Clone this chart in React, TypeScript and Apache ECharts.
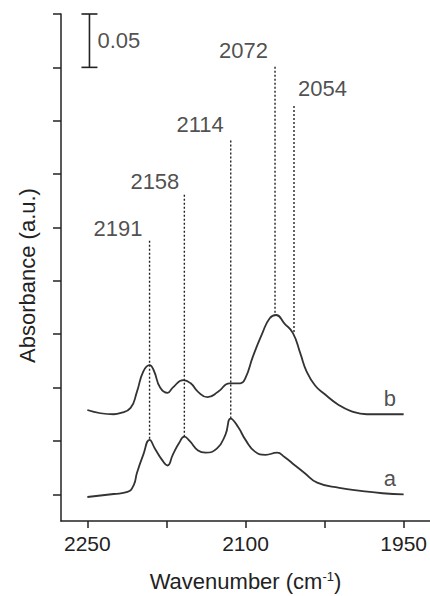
import React, { useEffect, useRef } from "react";
import * as echarts from "echarts";

// ---- data ----
const wavenumbersB = [2250, 2225, 2219, 2209, 2203, 2197, 2191, 2187, 2181, 2174, 2169, 2159, 2152, 2145, 2136, 2126, 2115, 2105, 2100, 2093, 2084, 2077, 2071, 2063, 2055, 2048, 2042, 2034, 2025, 2012, 2000, 1985, 1970, 1950];
const absorbanceB = [0.104, 0.1, 0.101, 0.106, 0.121, 0.14, 0.146, 0.141, 0.125, 0.12, 0.125, 0.132, 0.129, 0.121, 0.116, 0.121, 0.129, 0.129, 0.134, 0.154, 0.176, 0.19, 0.193, 0.185, 0.176, 0.157, 0.14, 0.127, 0.119, 0.109, 0.103, 0.1, 0.1, 0.1];

const wavenumbersA = [2250, 2225, 2212, 2206, 2203, 2197, 2191, 2186, 2179, 2174, 2169, 2163, 2158, 2153, 2145, 2138, 2127, 2119, 2114, 2107, 2100, 2091, 2081, 2070, 2063, 2053, 2044, 2032, 2011, 1989, 1970, 1950];
const absorbanceA = [0.0225, 0.0253, 0.0272, 0.0337, 0.045, 0.062, 0.076, 0.068, 0.057, 0.052, 0.062, 0.073, 0.079, 0.075, 0.066, 0.064, 0.068, 0.081, 0.096, 0.088, 0.076, 0.065, 0.062, 0.064, 0.06, 0.052, 0.045, 0.036, 0.031, 0.028, 0.026, 0.025];

const peakWavenumbers = [2191, 2158, 2114, 2072, 2054];
const peakLineBottoms = [0.077, 0.079, 0.096, 0.195, 0.177];
const peakLineTops = [0.263, 0.307, 0.357, 0.426, 0.39];

const curveNames = ["a", "b"];
const curveLabelWavenumber = 1963;
const curveLabelValues = [0.04, 0.115];

const xTickValues = [1950, 2025, 2100, 2175, 2250];
const xLabelValues = [1950, 2100, 2250];
const yTickValues = [0.025, 0.075, 0.125, 0.175, 0.225, 0.275, 0.325, 0.375, 0.425, 0.475];

const scaleBarWavenumber = 2248;
const scaleBarRange = [0.425, 0.475];
const scaleBarText = "0.05";

// ---- layout / style (not data) ----
const FONT = "'Liberation Sans', Arial, sans-serif";
const INK = "#222";
const CURVE = "#333";
const labelOffsets = [[-7, 4], [-5, 4], [-7, 1], [-7, 0], [4, 0]];
const labelAligns = ["right", "right", "right", "right", "left"];

function buildOption() {
  const series: any[] = [];
  series.push({
    type: "line",
    name: "a",
    data: wavenumbersA.map((w, i) => [w, absorbanceA[i]]),
    smooth: 0.5,
    symbol: "none",
    clip: false,
    lineStyle: { color: CURVE, width: 1.8 },
  });
  series.push({
    type: "line",
    name: "b",
    data: wavenumbersB.map((w, i) => [w, absorbanceB[i]]),
    smooth: 0.5,
    symbol: "none",
    clip: false,
    lineStyle: { color: CURVE, width: 1.8 },
  });
  peakWavenumbers.forEach((w, i) => {
    series.push({
      type: "line",
      data: [
        [w, peakLineBottoms[i]],
        [w, peakLineTops[i]],
      ],
      symbol: "none",
      clip: false,
      lineStyle: { color: INK, width: 1.4, type: [2, 2] },
    });
  });
  series.push({
    type: "scatter",
    symbolSize: 0,
    clip: false,
    data: peakWavenumbers.map((w, i) => ({
      value: [w, peakLineTops[i]],
      label: {
        show: true,
        position: "top",
        align: labelAligns[i],
        offset: labelOffsets[i],
        distance: 5,
        formatter: String(w),
        fontSize: 22,
        color: INK,
        fontFamily: FONT,
      },
    })),
  });
  series.push({
    type: "scatter",
    symbolSize: 0,
    clip: false,
    data: curveNames.map((n, i) => ({
      value: [curveLabelWavenumber, curveLabelValues[i]],
      label: {
        show: true,
        position: "inside",
        formatter: n,
        fontSize: 22,
        color: INK,
        fontFamily: FONT,
      },
    })),
  });
  // scale bar
  series.push({
    type: "line",
    clip: false,
    symbol: "rect",
    symbolSize: [16, 1.6],
    showSymbol: true,
    itemStyle: { color: INK },
    lineStyle: { color: INK, width: 1.6 },
    data: [
      [scaleBarWavenumber, scaleBarRange[0]],
      [scaleBarWavenumber, scaleBarRange[1]],
    ],
  });
  series.push({
    type: "scatter",
    symbolSize: 0,
    clip: false,
    data: [
      {
        value: [scaleBarWavenumber, (scaleBarRange[0] + scaleBarRange[1]) / 2],
        label: {
          show: true,
          position: "right",
          distance: 8,
          formatter: scaleBarText,
          fontSize: 22,
          color: INK,
          fontFamily: FONT,
        },
      },
    ],
  });

  return {
    animation: false,
    backgroundColor: "#fff",
    textStyle: { fontFamily: FONT },
    grid: { left: 61, right: 0, top: 14, bottom: 75, outerBoundsMode: "none", containLabel: false },
    xAxis: {
      type: "value",
      inverse: true,
      min: 1925,
      max: 2275,
      name: "{a|Wavenumber (cm}{s|-1}{a|)}",
      nameLocation: "middle",
      nameGap: 49,
      nameTextStyle: {
        rich: {
          a: { fontSize: 22, color: INK, fontFamily: FONT },
          s: { fontSize: 13, color: INK, fontFamily: FONT, padding: [0, 0, 9, 0] },
        },
      },
      axisLine: { show: true, onZero: false, lineStyle: { color: INK, width: 1.5 } },
      axisTick: { show: true, inside: false, length: 7, customValues: xTickValues, lineStyle: { color: INK, width: 1.5 } },
      axisLabel: {
        show: true,
        customValues: xLabelValues,
        formatter: (v: number) => String(v),
        margin: 12,
        fontSize: 21,
        color: INK,
        fontFamily: FONT,
      },
      splitLine: { show: false },
    },
    yAxis: {
      type: "value",
      min: 0,
      max: 0.475,
      name: "Absorbance (a.u.)",
      nameLocation: "middle",
      nameGap: 23,
      nameTextStyle: { fontSize: 22, color: INK, fontFamily: FONT, padding: [0, 16, 0, 0] },
      axisLine: { show: true, onZero: false, lineStyle: { color: INK, width: 1.5 } },
      axisTick: { show: true, inside: false, length: 8, customValues: yTickValues, lineStyle: { color: INK, width: 1.5 } },
      axisLabel: { show: false },
      splitLine: { show: false },
    },
    series,
  };
}

export default function App() {
  const ref = useRef<HTMLDivElement>(null);
  useEffect(() => {
    if (!ref.current) return;
    const chart = echarts.init(ref.current, null, { renderer: "svg" });
    chart.setOption(buildOption() as any);
    return () => chart.dispose();
  }, []);
  return (
    <div
      ref={ref}
      style={{ position: "absolute", left: 0, top: 0, width: 430, height: 596 }}
    />
  );
}
